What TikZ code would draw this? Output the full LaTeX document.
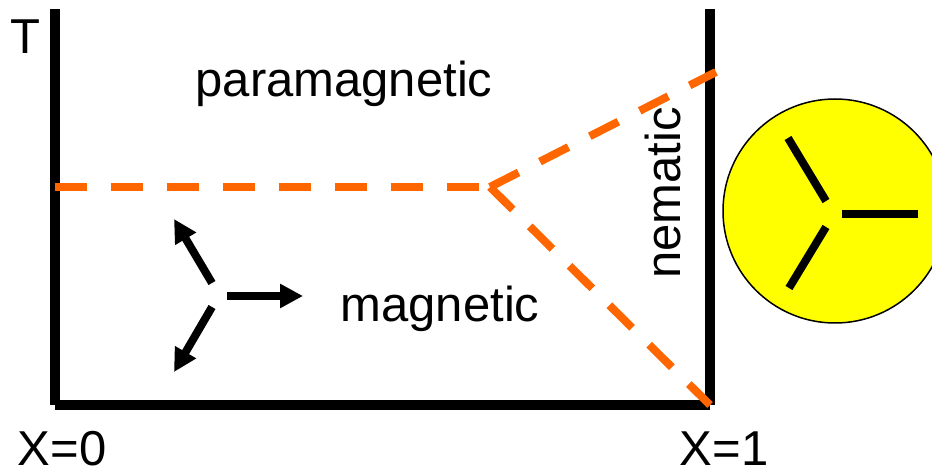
\documentclass[tikz,border=0pt]{standalone}
\usepackage{fontspec}
\setmainfont{Liberation Sans}
\usepackage{xcolor}
\usepackage{tikz}
\usetikzlibrary{arrows.meta, positioning, calc}
\definecolor{myorange}{RGB}{255,102,0}
\definecolor{myyellow}{RGB}{255,255,0}
\tikzset{
  axis/.style={line width=10pt, color=black},
  boundary/.style={line width=8pt, color=myorange, dash pattern=on 32pt off 24pt},
  spin/.style={line width=8pt, -{Triangle[length=23pt, width=23pt]}},
  rod/.style={line width=8pt},
  lbl/.style={font=\fontsize{49}{58}\selectfont, inner sep=0pt}
}
\begin{document}
\begin{tikzpicture}[x=1pt, y=-1pt]
  \useasboundingbox (0,0) rectangle (932,470);
  % frame of the phase diagram
  \coordinate (ltop) at (55,9);
  \coordinate (lbot) at (55,405);
  \coordinate (rtop) at (710,9);
  \coordinate (rbot) at (710,405);
  \draw[axis] (ltop) -- (lbot);
  \draw[axis] ($(lbot)+(0,-0.5)$) -- ($(rbot)+(0,-0.5)$);
  \draw[axis] (rtop) -- (rbot);
  % phase boundaries
  \coordinate (lhit) at (55,187);
  \coordinate (junc) at (490,187);
  \coordinate (rhit) at (716,72);
  \draw[boundary] (lhit) -- (junc);
  \draw[boundary] (junc) -- (rhit);
  \draw[boundary] (junc) -- (rbot);
  % labels
  \node[lbl, anchor=base] (tlab) at (25,54) {T};
  \node[lbl, anchor=base] (para) at (344,97) {paramagnetic};
  \node[lbl, anchor=base] (mag) at (440,322) {magnetic};
  \node[lbl, anchor=base, rotate=90] (nem) at (680,193) {nematic};
  \node[lbl, anchor=base] (x0) at (62,465) {X=0};
  \node[lbl, anchor=base] (x1) at (724,465) {X=1};
  % magnetic order
  \draw[spin] (227,296) -- (303,296);
  \draw[spin] (212,283) -- (174,219);
  \draw[spin] (212,307) -- (174,372);
  % nematic order
  \node[circle, draw, fill=myyellow, line width=1.5pt, minimum size=224pt] (disc) at (835,211) {};
  \draw[rod] (842,214) -- (918,214);
  \draw[rod] (826,201) -- (788,138);
  \draw[rod] (826,227) -- (789,288);
\end{tikzpicture}
\end{document}
